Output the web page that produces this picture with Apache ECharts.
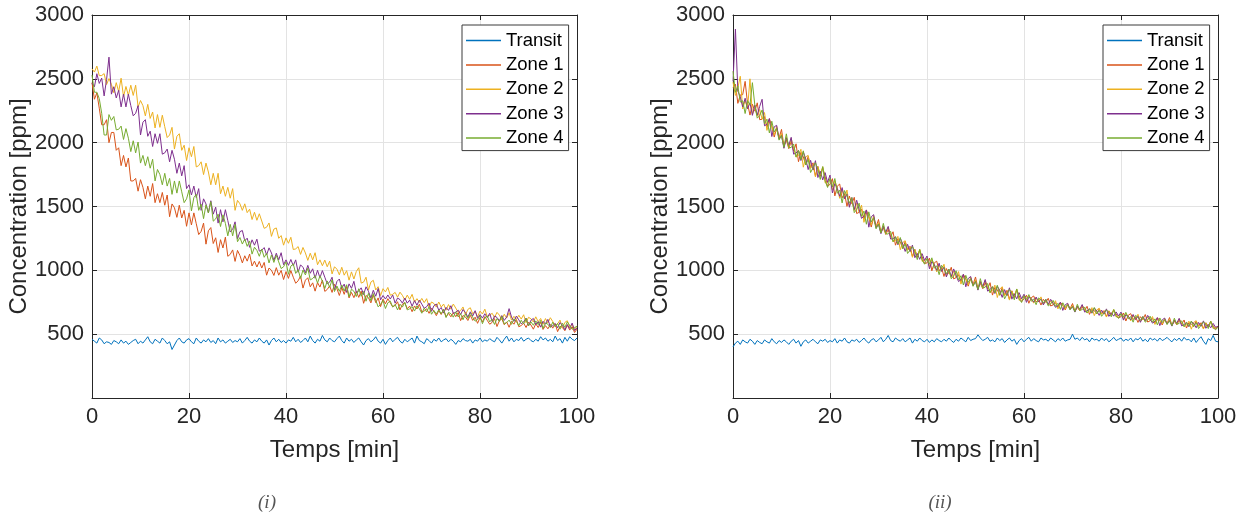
<!DOCTYPE html>
<html>
<head>
<meta charset="utf-8">
<script src="https://cdn.jsdelivr.net/npm/echarts@6/dist/echarts.min.js"></script>
<style>
html,body{margin:0;padding:0;background:#fff;}
#chart{width:1243px;height:517px;}
</style>
</head>
<body>
<div id="chart"></div>
<script>
// ---- Data (ppm), one sample every 0.5 min, t = 0..100 ----
const minutes = Array.from({length: 201}, (_, i) => i / 2);
const seriesNames = ['Transit', 'Zone 1', 'Zone 2', 'Zone 3', 'Zone 4'];
const xTicks = [0, 20, 40, 60, 80, 100];
const yTicks = [500, 1000, 1500, 2000, 2500, 3000];
const captions = ['(i)', '(ii)'];

// Panel (i)
const transitA = [
460,445,430,470,455,425,440,435,420,450,
440,425,455,430,445,420,435,450,460,425,
445,430,455,480,440,425,460,445,430,470,
450,425,440,380,415,450,470,440,430,455,
465,440,425,470,445,430,455,440,465,435,
450,425,470,440,455,430,445,460,435,450,
440,465,430,450,475,445,430,455,440,470,
445,430,455,415,450,470,440,460,435,450,
430,455,445,475,440,460,435,450,470,440,
485,450,430,460,445,490,455,440,470,450,
440,465,485,450,430,470,445,460,435,455,
470,440,415,450,465,440,455,480,445,430,
460,420,450,470,440,460,475,445,430,460,
440,455,470,430,485,450,440,425,465,450,
430,460,445,470,440,455,465,440,460,445,
420,450,440,465,450,445,460,430,455,445,
470,440,455,445,465,450,440,475,455,430,
460,485,445,470,440,460,450,475,445,460,
470,450,440,460,445,480,455,470,445,460,
440,485,450,465,430,475,445,480,460,450,
470];
const zone1A = [
2470,2340,2390,2270,2140,2140,2180,2000,2080,2080,
1940,1960,1820,1900,1810,1880,1700,1700,1720,1620,
1710,1650,1560,1660,1580,1680,1530,1600,1530,1610,
1510,1590,1420,1520,1490,1415,1510,1410,1470,1345,
1450,1355,1450,1365,1280,1305,1370,1205,1310,1335,
1210,1255,1140,1240,1175,1260,1110,1125,1160,1070,
1156,1116,1058,1114,1072,1128,1034,1072,1026,1070,
1018,1062,962,1018,1001,960,1021,962,999,928,
990,937,998,946,899,918,956,861,923,942,
871,902,837,904,869,924,835,850,878,827,
891,856,803,864,812,873,784,827,786,835,
788,837,742,803,786,745,806,747,784,716,
775,738,778,746,714,726,754,690,734,746,
699,720,676,721,697,734,674,682,699,663,
704,680,645,685,654,694,635,663,636,668,
637,669,606,646,635,607,648,608,633,585,
630,596,638,608,578,592,622,560,606,620,
574,596,554,600,578,616,558,568,586,552,
594,572,539,581,552,594,537,567,542,576,
547,581,520,562,553,527,570,532,559,513,
540];
const zone2A = [
2578,2553,2600,2525,2526,2541,2455,2502,2457,2391,
2470,2400,2505,2360,2440,2370,2450,2370,2450,2280,
2330,2290,2210,2300,2190,2240,2115,2220,2120,2215,
2125,2040,2060,2120,1950,2050,2070,1940,1980,1860,
1960,1890,1970,1810,1820,1850,1750,1840,1770,1670,
1760,1670,1760,1600,1660,1580,1650,1565,1640,1470,
1548,1521,1470,1521,1452,1479,1398,1455,1392,1443,
1386,1329,1338,1371,1266,1323,1332,1251,1272,1197,
1254,1212,1259,1163,1168,1186,1125,1179,1136,1078,
1134,1082,1138,1044,1082,1036,1080,1028,1072,972,
1028,1009,965,1024,962,997,923,988,932,991,
1020,900,908,946,846,908,922,846,872,802,
856,831,866,805,812,827,790,829,804,767,
806,773,812,751,778,749,780,747,778,713,
752,740,712,752,712,736,688,732,696,736,
704,672,685,713,650,694,707,659,680,636,
681,658,696,637,647,664,630,671,649,614,
656,626,668,610,640,614,648,618,652,590,
632,621,595,636,598,623,577,622,588,629,
599,568,581,610,547,592,605,558,579,536,
565];
const zone3A = [
2466,2438,2540,2464,2506,2366,2494,2670,2380,2438,
2350,2410,2280,2380,2280,2380,2290,2210,2230,2290,
2060,2160,2180,2050,2090,1970,2070,1995,2070,1910,
1920,1950,1850,1940,1870,1760,1840,1740,1820,1640,
1670,1590,1660,1570,1640,1470,1560,1520,1450,1545,
1440,1495,1370,1475,1380,1475,1390,1300,1320,1380,
1246,1303,1312,1231,1252,1180,1239,1197,1244,1150,
1158,1178,1120,1176,1136,1078,1134,1082,1138,1044,
1082,1039,1085,1036,1082,985,1043,1024,980,1039,
977,1012,938,1000,942,998,946,894,908,946,
846,913,932,861,892,827,894,859,914,825,
838,863,810,871,836,783,844,797,858,769,
803,775,807,775,807,743,783,771,743,783,
743,767,719,763,727,767,735,703,715,743,
679,723,736,688,709,665,710,686,723,663,
672,688,653,693,670,634,675,643,684,624,
653,626,660,629,663,600,642,631,605,646,
608,634,700,634,600,642,612,582,596,626,
564,609,623,576,598,555,601,578,616,557,
567,584,550,591,569,534,576,545,587,528,
550];
const zone4A = [
2530,2395,2395,2345,2230,2060,2060,2220,2175,2205,
2100,2105,2130,2025,2110,2035,1930,2015,1920,2005,
1840,1900,1820,1890,1800,1870,1700,1790,1750,1670,
1760,1660,1720,1595,1700,1605,1700,1615,1530,1560,
1630,1465,1570,1595,1470,1518,1405,1513,1450,1538,
1385,1403,1440,1343,1435,1368,1270,1360,1270,1360,
1224,1257,1206,1245,1188,1230,1127,1181,1156,1110,
1166,1102,1134,1058,1120,1062,1118,1066,1014,1028,
1066,969,1033,1050,976,1005,937,1002,964,1017,
925,936,958,900,956,916,858,917,867,926,
834,877,836,885,838,887,792,853,836,795,
856,797,834,758,820,762,818,766,714,733,
764,701,746,759,712,733,690,735,712,749,
690,699,716,681,722,699,664,705,674,715,
656,685,658,691,660,693,630,671,660,633,
674,635,660,613,658,623,664,633,602,615,
644,582,628,642,596,618,576,622,600,638,
580,591,610,577,620,599,566,609,580,623,
566,596,570,604,574,608,546,588,578,552,
594,557,584,539,586,553,596,567,538,553,
560];

// Panel (ii)
const transitB = [
400,430,445,420,455,440,430,460,445,420,
450,435,425,455,440,430,465,440,425,450,
435,455,440,420,445,460,430,450,405,440,
455,430,445,460,440,425,455,445,460,435,
450,440,465,430,455,445,470,440,430,455,
445,460,435,450,470,445,430,455,465,440,
455,475,440,460,490,450,440,470,455,445,
465,440,455,470,430,460,445,470,450,440,
460,435,455,440,465,450,440,460,445,470,
450,435,460,445,470,455,440,475,450,460,
465,495,470,450,460,475,445,455,440,470,
450,465,435,455,470,445,460,420,450,465,
440,460,475,445,465,450,440,470,455,460,
445,470,455,440,465,450,470,445,455,460,
500,460,470,450,475,455,465,440,470,455,
460,445,470,450,465,440,455,475,450,460,
470,445,460,450,470,440,465,455,475,445,
460,440,470,455,465,445,470,450,460,475,
455,440,465,450,470,445,475,455,460,440,
470,435,460,480,445,420,465,450,490,445,
440];
const zone1B = [
2434,2458,2308,2374,2376,2480,2306,2216,2302,2247,
2312,2180,2184,2204,2120,2188,2128,2044,2112,2036,
2104,1972,2021,1953,2010,1934,1991,1851,1924,1888,
1825,1893,1806,1842,1739,1815,1736,1804,1733,1657,
1674,1718,1583,1659,1676,1568,1601,1501,1582,1522,
1572,1445,1454,1479,1400,1473,1418,1339,1412,1341,
1398,1299,1332,1281,1320,1263,1302,1197,1248,1221,
1170,1226,1162,1189,1108,1165,1102,1158,1106,1054,
1058,1096,996,1058,1072,996,1022,952,1014,974,
1024,933,943,966,910,969,931,876,934,887,
948,857,899,856,904,855,903,806,866,847,
805,866,807,844,773,840,787,848,801,754,
777,805,742,786,799,751,772,728,773,749,
781,721,729,746,710,750,726,690,730,698,
740,681,710,683,716,685,718,655,696,685,
658,699,660,685,638,683,648,689,658,627,
637,666,603,648,661,614,635,592,637,614,
654,595,605,622,588,629,607,572,614,583,
630,571,601,574,608,577,611,548,590,579,
560,602,564,590,544,590,556,598,568,538,
565];
const zone2B = [
2474,2370,2428,2520,2264,2332,2266,2500,2222,2271,
2208,2260,2184,2236,2096,2164,2128,2060,2128,2036,
2072,1964,2045,1961,2034,1958,1887,1899,1948,1808,
1889,1901,1798,1826,1731,1807,1752,1812,1685,1689,
1714,1630,1703,1643,1564,1632,1561,1629,1502,1546,
1468,1525,1454,1511,1376,1449,1418,1355,1428,1341,
1374,1293,1350,1287,1338,1281,1224,1233,1266,1161,
1218,1232,1156,1177,1102,1159,1114,1164,1070,1078,
1088,1030,1086,1046,988,1044,992,1048,954,992,
946,993,943,990,892,951,931,888,946,887,
924,851,917,862,922,873,825,842,884,787,
853,872,801,832,767,834,799,854,765,778,
797,761,802,778,743,783,752,792,733,761,
729,761,729,762,698,738,726,698,738,698,
724,677,722,687,728,697,666,679,708,645,
690,703,656,677,634,679,656,693,634,643,
657,622,663,640,605,646,615,656,597,626,
602,635,605,638,576,617,607,580,622,583,
614,567,613,578,620,589,559,572,602,539,
592,606,560,582,540,586,564,602,544,554,
555];
const zone3B = [
2480,2890,2404,2358,2280,2348,2266,2312,2214,2295,
2216,2284,2340,2132,2144,2188,2048,2124,2136,2028,
2056,1956,2037,1977,2042,1910,1919,1939,1860,1928,
1873,1789,1862,1786,1859,1727,1776,1708,1765,1689,
1746,1606,1679,1643,1580,1648,1561,1597,1494,1570,
1476,1549,1478,1407,1424,1473,1338,1419,1436,1333,
1362,1287,1344,1299,1344,1245,1248,1263,1200,1251,
1206,1148,1204,1147,1198,1099,1132,1086,1130,1078,
1112,1012,1068,1046,1000,1056,992,1024,948,1010,
952,1011,961,912,928,969,871,936,952,881,
912,845,911,874,928,837,849,872,818,877,
841,788,849,802,863,774,817,776,825,778,
813,749,790,778,751,791,752,776,729,773,
733,773,741,710,722,750,686,730,742,694,
716,673,718,695,732,673,682,699,664,705,
682,647,688,657,698,639,668,641,674,643,
673,610,651,640,613,654,615,640,593,638,
606,647,617,586,600,629,567,612,626,579,
606,563,609,586,624,565,575,592,558,599,
584,550,592,562,604,546,576,550,584,554,
560];
const zone4B = [
2560,2394,2444,2318,2328,2228,2330,2296,2470,2295,
2192,2212,2256,2148,2184,2076,2168,2084,2112,2020,
2056,1964,2069,1961,1962,1990,1887,1939,1868,1936,
1825,1869,1766,1802,1843,1791,1712,1812,1701,1649,
1722,1654,1719,1603,1628,1528,1625,1581,1526,1570,
1452,1477,1526,1423,1464,1361,1458,1379,1412,1325,
1362,1293,1368,1287,1284,1305,1224,1263,1206,1257,
1170,1208,1132,1159,1186,1147,1084,1164,1082,1048,
1094,1048,1098,1016,1036,966,1040,1012,972,1010,
934,957,997,924,958,885,961,906,934,875,
912,851,935,862,868,897,825,872,824,883,
805,848,777,814,851,822,769,854,777,748,
801,773,810,758,775,731,784,768,745,773,
721,737,765,718,742,694,746,710,730,690,
716,677,734,687,692,713,666,699,668,709,
658,687,640,665,690,671,636,693,642,623,
661,634,671,620,637,594,647,632,609,638,
594,611,641,594,620,573,627,592,614,575,
606,567,625,578,584,605,559,592,562,603,
560,590,544,570,596,578,544,602,552,534,
555];

const panelA = [transitA, zone1A, zone2A, zone3A, zone4A];
const panelB = [transitB, zone1B, zone2B, zone3B, zone4B];

// ---- Styling ----
const colors = ['#0072BD', '#D95319', '#EDB120', '#7E2F8E', '#77AC30'];
const axisColor = '#262626';
const gridColor = '#e3e3e3';
const FONT = '"Liberation Sans", Arial, Helvetica, sans-serif';

const pair = vals => vals.map((v, i) => [minutes[i], v]);

const grids = [
  {left: 92, top: 15, width: 485, height: 383},
  {left: 733, top: 15, width: 485, height: 383}
];

function bottomX(gi) {
  return {
    type: 'value', gridIndex: gi, position: 'bottom',
    min: xTicks[0], max: xTicks[xTicks.length - 1], interval: 20,
    name: 'Temps [min]', nameLocation: 'middle', nameGap: 40,
    nameTextStyle: {fontFamily: FONT, fontSize: 24, color: axisColor},
    axisLine: {show: true, onZero: false, lineStyle: {color: axisColor, width: 1}},
    axisTick: {show: true, inside: true, length: 5, lineStyle: {color: axisColor}},
    axisLabel: {fontFamily: FONT, fontSize: 22, color: axisColor, margin: 8},
    splitLine: {show: true, lineStyle: {color: gridColor, width: 1}}
  };
}
function topX(gi) {
  return {
    type: 'value', gridIndex: gi, position: 'top',
    min: 0, max: 100, interval: 20,
    axisLine: {show: true, onZero: false, lineStyle: {color: axisColor, width: 1}},
    axisTick: {show: true, inside: true, length: 5, lineStyle: {color: axisColor}},
    axisLabel: {show: false}, splitLine: {show: false}
  };
}
function leftY(gi) {
  return {
    type: 'value', gridIndex: gi, position: 'left',
    min: 0, max: yTicks[yTicks.length - 1], interval: 500,
    name: 'Concentration [ppm]', nameLocation: 'middle', nameGap: 60,
    nameTextStyle: {fontFamily: FONT, fontSize: 24, color: axisColor},
    axisLine: {show: true, onZero: false, lineStyle: {color: axisColor, width: 1}},
    axisTick: {show: true, inside: true, length: 5, lineStyle: {color: axisColor}},
    axisLabel: {fontFamily: FONT, fontSize: 22, color: axisColor, margin: 8,
      formatter: v => (yTicks.indexOf(v) >= 0 ? String(v) : '')},
    splitLine: {show: true, lineStyle: {color: gridColor, width: 1}}
  };
}
function rightY(gi) {
  return {
    type: 'value', gridIndex: gi, position: 'right',
    min: 0, max: 3000, interval: 500,
    axisLine: {show: true, onZero: false, lineStyle: {color: axisColor, width: 1}},
    axisTick: {show: true, inside: true, length: 5, lineStyle: {color: axisColor}},
    axisLabel: {show: false}, splitLine: {show: false}
  };
}

const series = [];
[panelA, panelB].forEach((panel, pi) => {
  panel.forEach((vals, si) => {
    series.push({
      name: seriesNames[si], type: 'line',
      xAxisIndex: pi * 2, yAxisIndex: pi * 2,
      data: pair(vals), symbol: 'none', showSymbol: false,
      lineStyle: {color: colors[si], width: 1},
      itemStyle: {color: colors[si]},
      emphasis: {disabled: true}, z: 2 + si
    });
  });
});

function legend(left) {
  return {
    show: true, orient: 'vertical', left: left, top: 25,
    data: seriesNames,
    icon: 'rect', itemWidth: 35, itemHeight: 1.5, itemGap: 5.4,
    padding: [6, 5, 3, 4],
    backgroundColor: '#ffffff', borderColor: '#3a3a3a', borderWidth: 1,
    textStyle: {fontFamily: FONT, fontSize: 18.5, color: '#000', lineHeight: 19},
    selectedMode: false
  };
}

const option = {
  animation: false,
  backgroundColor: '#ffffff',
  color: colors,
  grid: grids,
  xAxis: [bottomX(0), topX(0), bottomX(1), topX(1)],
  yAxis: [leftY(0), rightY(0), leftY(1), rightY(1)],
  legend: [legend(462), legend(1103)],
  series: series,
  graphic: [
    {type: 'text', x: 267, y: 503, style: {text: captions[0], font: 'italic 19px "Liberation Serif", "Times New Roman", serif', fill: '#555', textAlign: 'center', textVerticalAlign: 'middle'}},
    {type: 'text', x: 940, y: 503, style: {text: captions[1], font: 'italic 19px "Liberation Serif", "Times New Roman", serif', fill: '#555', textAlign: 'center', textVerticalAlign: 'middle'}}
  ]
};

const chart = echarts.init(document.getElementById('chart'), null, {renderer: 'canvas'});
chart.setOption(option);
</script>
</body>
</html>
